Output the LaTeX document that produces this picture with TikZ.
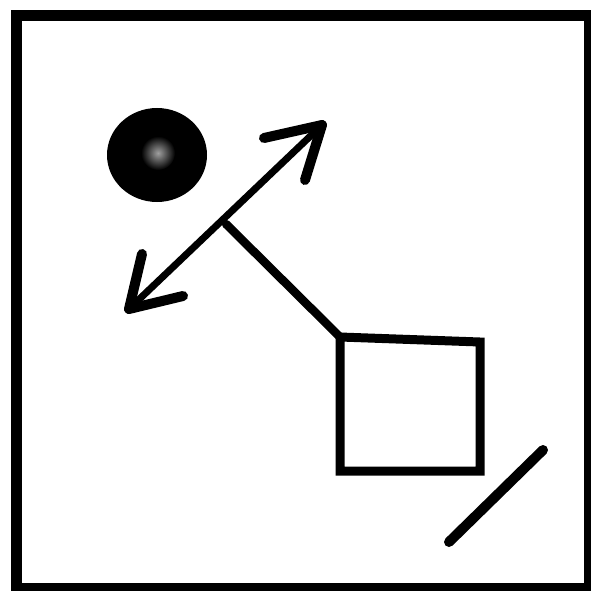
\documentclass[tikz,border=0pt]{standalone}
\begin{document}
\begin{tikzpicture}[x=1pt,y=-1pt,
  ink/.style={draw=black,line cap=round,line join=round},
  framestyle/.style={ink,line width=11pt,line join=miter,line cap=butt},
  shaft/.style={ink,line width=7pt},
  headstyle/.style={ink,line width=10pt},
  stemstyle/.style={ink,line width=8.5pt},
  boxstyle/.style={ink,line width=9pt,line join=miter},
  slashstyle/.style={ink,line width=10pt}]
\useasboundingbox (0,0) rectangle (591,591);
\fill[white] (0,0) rectangle (591,591);
% frame
\draw[framestyle] (16,16) rectangle (589,588);
% dot
\fill[black] (157,155) ellipse [x radius=50, y radius=47];
\shade[inner color=gray!75, outer color=black] (158,153) circle (17);
% double arrow
\coordinate (tipA) at (322,125);
\coordinate (tipB) at (129,309);
\coordinate (barbA1) at (264,138);
\coordinate (barbA2) at (305,180);
\coordinate (barbB1) at (142,254);
\coordinate (barbB2) at (183,296);
\draw[shaft] (tipB) -- (tipA);
\draw[headstyle] (barbA1) -- (tipA) -- (barbA2);
\draw[headstyle] (barbB1) -- (tipB) -- (barbB2);
% stem to square
\coordinate (joint) at (226,224);
\coordinate (sqTL) at (340,337);
\coordinate (sqTR) at (480,342);
\coordinate (sqBR) at (480,471);
\coordinate (sqBL) at (340,471);
\draw[stemstyle] (joint) -- (sqTL);
\draw[boxstyle] (sqTL) -- (sqTR) -- (sqBR) -- (sqBL) -- cycle;
% slash
\coordinate (slA) at (449,542);
\coordinate (slB) at (543,450);
\draw[slashstyle] (slA) -- (slB);
\end{tikzpicture}
\end{document}
